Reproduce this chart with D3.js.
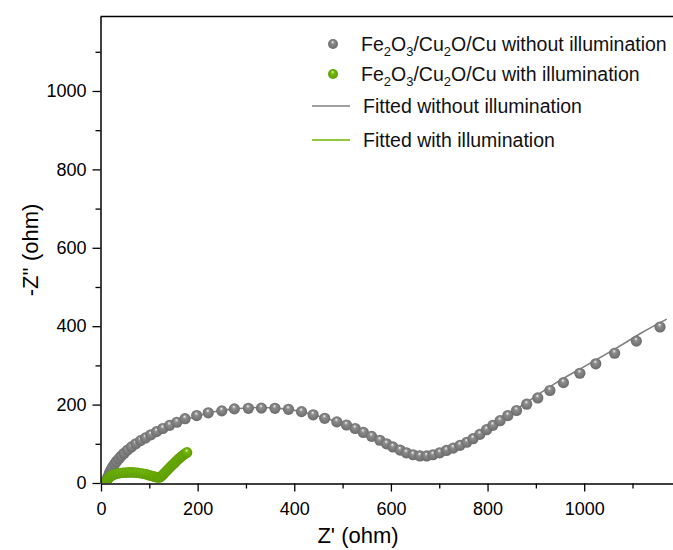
<!DOCTYPE html>
<html>
<head>
<meta charset="utf-8">
<script src="https://cdn.jsdelivr.net/npm/d3@7/dist/d3.min.js"></script>
<style>
  html, body { margin: 0; padding: 0; background: #fff; }
  svg { display: block; font-family: "Liberation Sans", Arial, sans-serif; }
</style>
</head>
<body>
<svg id="chart" width="673" height="550"></svg>
<script>
// ---- data ----
const darkZre = [12,14,16,18,21,24,28,32,37,42,48,55,63,72,82,92,103,115,128,142,157,174,198,222,250,276,305,332,360,388,415,439,463,488,508,526,543,560,577,591,604,619,632,646,660,674,687,701,715,729,743,757,770,784,798,811,826,842,860,881,904,929,957,991,1024,1063,1108,1157];
const darkZim = [8,14,20,27,34,41,48,55,62,69,76,84,92,100,108,115,123,131,139,147,155,164,172,179,184,189,190.5,191,190.5,188,182,174,165,156,148,139,129,119,109,100,92,84,77,72,69,69,72,77,83,89,96,104,113,124,136,147,159,172,185,201,217,236,256,280,304,331,362,398];

const lightZre = [11,12,14,16,19,22,26,30,35,40,46,52,58,64,70,76,82,88,94,99,104,108,112,116,119,122,125,128,131,135,139,143,147,151,155,159,163,167,171,175,178];
const lightZim = [2,6,10,13,16,19,21,23,24.5,25.5,26,26.5,27,27,26.5,26,25,23.5,22,20,18.5,17,15.5,14.5,14,14.5,17,21,25,30,35,40,45,50,55,60,64,68,72,76,78];

const fitDarkZre = [10,14,20,28,38,50,65,82,100,125,150,175,200,225,250,275,300,325,350,380,410,440,470,500,530,560,590,620,645,665,685,705,730,760,790,820,850,880,910,940,970,1000,1040,1080,1120,1171];
const fitDarkZim = [2,16,32,47,61,75,89,103,117,134,149,161,171,179,185,189,191.5,192.5,192,189,183,174,163,151,138,122,104,85,74,69,71,79,92,111,132,155,180,205,230,254,276,297,325,354,384,418];

const fitLightZre = [10,12,16,22,30,40,50,60,70,80,90,100,110,118,124,130,140,150,160,170,178];
const fitLightZim = [0,5,11,16,20,23.5,25.5,26.5,26.5,25.5,23,20,16.5,14.5,15,20,31,42,53,65,78];

const xTicks = [0,200,400,600,800,1000];
const yTicks = [0,200,400,600,800,1000];

const legendLabels = [
  ["Fe","2","O","3","/Cu","2","O/Cu without illumination"],
  ["Fe","2","O","3","/Cu","2","O/Cu with illumination"],
  ["Fitted without illumination"],
  ["Fitted with illumination"]
];

// ---- chart ----
const svg = d3.select("#chart");
const x = d3.scaleLinear().domain([0, 1190]).range([101, 676]);
const y = d3.scaleLinear().domain([0, 1190]).range([483, 16.5]);

const grayCol = "#808080", greenCol = "#6fb500";

const defs = svg.append("defs");
function sphere(id, hi, mid, edge) {
  const g = defs.append("radialGradient").attr("id", id)
    .attr("cx", "0.5").attr("cy", "0.5").attr("r", "0.55")
    .attr("fx", "0.45").attr("fy", "0.28");
  g.append("stop").attr("offset", "0%").attr("stop-color", hi);
  g.append("stop").attr("offset", "30%").attr("stop-color", mid);
  g.append("stop").attr("offset", "100%").attr("stop-color", edge);
}
sphere("gGray", "#f4f4f4", "#8c8c8c", "#686868");
sphere("gGreen", "#eafac4", "#74ba0c", "#5a9800");

defs.append("clipPath").attr("id", "plotClip").append("rect")
  .attr("x", 101).attr("y", 16.5).attr("width", 575).attr("height", 466.5);

const plot = svg.append("g").attr("clip-path", "url(#plotClip)");

const line = d3.line().x(d => x(d[0])).y(d => y(d[1])).curve(d3.curveCatmullRom);

const darkPts = darkZre.map((v, i) => [v, darkZim[i]]);
const lightPts = lightZre.map((v, i) => [v, lightZim[i]]);

plot.append("path").datum(fitDarkZre.map((v, i) => [v, fitDarkZim[i]]))
  .attr("d", line).attr("fill", "none").attr("stroke", grayCol).attr("stroke-width", 1.6);

plot.selectAll("circle.dark").data(darkPts).enter().append("circle")
  .attr("class", "dark").attr("cx", d => x(d[0])).attr("cy", d => y(d[1]))
  .attr("r", 5.6).attr("fill", "url(#gGray)");

plot.append("path").datum(fitLightZre.map((v, i) => [v, fitLightZim[i]]))
  .attr("d", line).attr("fill", "none").attr("stroke", greenCol).attr("stroke-width", 1.6);

plot.selectAll("circle.light").data(lightPts).enter().append("circle")
  .attr("class", "light").attr("cx", d => x(d[0])).attr("cy", d => y(d[1]))
  .attr("r", 5.3).attr("fill", "url(#gGreen)");

// frame top
svg.append("line").attr("x1", 100.5).attr("x2", 673).attr("y1", 16.5).attr("y2", 16.5)
  .attr("stroke", "#000").attr("stroke-width", 1.3);

// axes
const axCol = "#000";
const xMinor = d3.range(100, 1200, 200);
const yMinor = d3.range(100, 1200, 200);
const fmt = d3.format("d");

const gx = svg.append("g").attr("transform", "translate(0,483.5)");
gx.call(d3.axisBottom(x).tickValues(xTicks).tickFormat(fmt).tickSize(8).tickPadding(11).tickSizeOuter(0));
gx.append("g").call(d3.axisBottom(x).tickValues(xMinor).tickSize(5).tickFormat("").tickSizeOuter(0))
  .select(".domain").remove();

const gy = svg.append("g").attr("transform", "translate(100.5,0)");
gy.call(d3.axisLeft(y).tickValues(yTicks).tickFormat(fmt).tickSize(8).tickPadding(6).tickSizeOuter(0));
gy.append("g").call(d3.axisLeft(y).tickValues(yMinor).tickSize(5).tickFormat("").tickSizeOuter(0))
  .select(".domain").remove();

svg.selectAll(".domain").attr("stroke", axCol).attr("stroke-width", 1.5);
svg.selectAll(".tick line").attr("stroke", axCol).attr("stroke-width", 1.3);
svg.selectAll(".tick text").attr("font-size", 18).attr("fill", "#000")
  .attr("font-family", "'Liberation Sans', Arial, sans-serif");

// axis titles
svg.append("text").attr("x", 358).attr("y", 543).attr("text-anchor", "middle")
  .attr("font-size", 22).text("Z' (ohm)");
svg.append("text").attr("transform", "translate(38,250) rotate(-90)")
  .attr("text-anchor", "middle").attr("font-size", 22).text("-Z'' (ohm)");

// legend
const lg = svg.append("g");
const rowsY = [44, 74, 106, 140];
lg.append("circle").attr("cx", 333).attr("cy", rowsY[0]).attr("r", 5).attr("fill", "url(#gGray)");
lg.append("circle").attr("cx", 333).attr("cy", rowsY[1]).attr("r", 5).attr("fill", "url(#gGreen)");
lg.append("line").attr("x1", 312).attr("x2", 350).attr("y1", rowsY[2]).attr("y2", rowsY[2])
  .attr("stroke", grayCol).attr("stroke-width", 1.6);
lg.append("line").attr("x1", 312).attr("x2", 350).attr("y1", rowsY[3]).attr("y2", rowsY[3])
  .attr("stroke", greenCol).attr("stroke-width", 1.6);

legendLabels.forEach((parts, i) => {
  const t = lg.append("text").attr("x", i < 2 ? 361 : 363).attr("y", rowsY[i] + 7)
    .attr("font-size", 19.5).attr("fill", "#111");
  parts.forEach((p, j) => {
    const isSub = parts.length > 1 && j % 2 === 1;
    const ts = t.append("tspan").text(p);
    if (isSub) ts.attr("font-size", 13).attr("dy", 5);
    else if (j > 0) ts.attr("dy", -5);
  });
});
</script>
</body>
</html>
